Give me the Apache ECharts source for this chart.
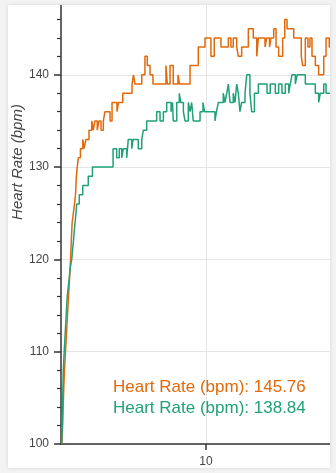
<!DOCTYPE html>
<html>
<head>
<meta charset="utf-8">
<script src="https://cdn.jsdelivr.net/npm/echarts@6/dist/echarts.min.js"></script>
<style>
  html, body { margin: 0; padding: 0; background: #f3f3f3; }
  #card {
    position: absolute; left: 8px; top: 5px; width: 322px; height: 463px;
    background: #fff; overflow: hidden;
    box-shadow: 0 0 4px rgba(0, 0, 0, 0.12);
  }
  #chart { position: absolute; left: -8px; top: -35px; width: 345px; height: 520px; }
</style>
</head>
<body>
<div id="card"><div id="chart"></div></div>
<script>
// elapsed time (minutes) where the reading changes, and the reading from there on
const timeA = [0.06, 0.11, 0.15, 0.19, 0.24, 0.31, 0.38, 0.45, 0.52, 0.59, 0.66, 0.71, 0.77, 0.85, 0.93,
  1.00, 1.06, 1.12, 1.19, 1.34, 1.50, 1.59, 1.72, 1.93, 2.12, 2.23, 2.34, 2.50, 2.62, 2.76, 2.92,
  3.03, 3.38, 3.52, 3.86, 3.97, 4.26, 4.90, 5.00, 5.10, 5.57, 5.79, 5.95, 6.14, 6.34, 7.24, 7.33,
  7.52, 7.74, 8.07, 8.17, 8.90, 9.47, 9.93, 10.34, 10.57, 11.03, 11.54, 11.72, 11.88, 12.12, 12.23,
  12.46, 12.92, 13.26, 13.50, 13.61, 14.07, 14.19, 14.38, 14.48, 14.67, 14.83, 15.01, 15.29, 15.43,
  15.59, 16.05, 16.57, 16.67, 16.85, 17.03, 17.17, 17.31, 17.54, 17.77, 18.12, 18.28, 18.50, 18.60];
const hrA = [100, 102, 104, 106, 108, 110, 112, 114, 116, 118, 120, 122, 124, 125, 126,
  127, 129, 130, 131, 132, 133, 132, 133, 134, 135, 134, 135, 134, 135, 134, 135,
  136, 135, 137, 136, 137, 138, 139, 140, 139, 140, 142, 141, 140, 139, 141, 139,
  141, 139, 140, 139, 141, 143, 144, 142, 144, 143, 144, 143, 144, 143, 142,
  143, 145, 144, 142, 144, 143, 144, 143, 144, 145, 143, 142, 144, 146,
  145, 144, 142, 141, 144, 143, 144, 142, 141, 140, 142, 144, 143, 143];

const timeB = [0.05, 0.09, 0.12, 0.16, 0.22, 0.29, 0.36, 0.43, 0.50, 0.57, 0.63, 0.74, 0.80, 0.86, 0.91,
  0.97, 1.03, 1.08, 1.26, 1.50, 1.88, 2.17, 3.59, 3.84, 4.02, 4.19, 4.30, 4.53, 4.64, 4.88, 4.97,
  5.33, 5.57, 5.68, 5.91, 6.60, 6.83, 7.06, 7.29, 7.59, 7.69, 7.74, 7.98, 8.16, 8.26, 8.44, 8.55,
  8.78, 8.90, 9.01, 9.12, 9.59, 9.79, 9.90, 10.62, 10.72, 10.85, 11.19, 11.31, 11.43, 11.54, 11.66,
  11.88, 12.00, 12.12, 12.23, 12.34, 12.46, 12.69, 12.81, 13.03, 13.15, 13.34, 13.61, 14.21, 14.43,
  14.78, 15.01, 15.24, 15.47, 15.70, 15.81, 15.93, 16.16, 16.28, 16.85, 17.54, 17.77, 17.88, 18.12,
  18.28, 18.60];
const hrB = [100, 102, 105, 108, 110, 112, 114, 116, 117, 118, 119, 120, 121, 122, 123,
  124, 125, 126, 127, 128, 129, 130, 132, 131, 132, 131, 132, 131, 133, 132, 133,
  132, 133, 134, 135, 136, 135, 136, 137, 136, 137, 135, 137, 138, 137, 136, 135,
  137, 136, 137, 135, 136, 137, 136, 135, 136, 137, 138, 137, 138, 139, 137,
  138, 137, 139, 138, 136, 137, 138, 140, 138, 136, 138, 139, 138, 139,
  138, 139, 138, 139, 138, 139, 140, 139, 140, 139, 138, 137, 138, 139,
  138, 138];

const legendLabels = ['Heart Rate (bpm): 145.76', 'Heart Rate (bpm): 138.84'];
const lineColors = ['#e2690b', '#21a07a'];
const xTickValues = [10];
const yAxisTitle = 'Heart Rate (bpm)';

const font = '"Liberation Sans", Arial, Helvetica, sans-serif';

function pairs(ts, vs) {
  return ts.map((t, i) => [t, vs[i]]);
}

const chart = echarts.init(document.getElementById('chart'), null, { renderer: 'canvas' });

chart.setOption({
  animation: false,
  grid: {
    left: 61,
    top: 12.5,
    width: 275.5,
    height: 461.5
  },
  graphic: {
    type: 'text',
    x: 18,
    y: 192,
    rotation: Math.PI / 2,
    style: {
      text: yAxisTitle,
      align: 'center',
      verticalAlign: 'middle',
      font: 'italic 15px ' + font,
      fill: '#444'
    }
  },
  legend: {
    orient: 'vertical',
    left: 108,
    top: 407.5,
    padding: 0,
    itemGap: 1,
    itemWidth: 0,
    icon: 'none',
    selectedMode: false,
    textStyle: { fontFamily: font, fontSize: 17, lineHeight: 20 },
    data: legendLabels.map((name, i) => ({ name, textStyle: { color: lineColors[i] } }))
  },
  xAxis: {
    type: 'value',
    min: 0,
    max: 19,
    interval: 10,
    axisLine: { lineStyle: { color: '#333', width: 1.5 } },
    axisTick: { customValues: xTickValues, length: 6, lineStyle: { color: '#333', width: 1.5 } },
    axisLabel: {
      customValues: xTickValues,
      margin: 12,
      color: '#444',
      fontFamily: font,
      fontSize: 12,
      showMinLabel: false,
      showMaxLabel: false
    },
    splitLine: { show: true, lineStyle: { color: '#e5e5e5', width: 1 } }
  },
  yAxis: {
    type: 'value',
    min: 100,
    max: 150,
    interval: 10,
    axisLine: { show: true, lineStyle: { color: '#333', width: 1.5 } },
    axisTick: { show: true, length: 7, lineStyle: { color: '#333', width: 1.5 } },
    minorTick: { show: true, splitNumber: 5, length: 4, lineStyle: { color: '#333', width: 1.2 } },
    axisLabel: {
      margin: 12,
      color: '#444',
      fontFamily: font,
      fontSize: 12,
      showMaxLabel: false
    },
    splitLine: { show: true, lineStyle: { color: '#e5e5e5', width: 1 } }
  },
  series: [
    {
      name: legendLabels[0],
      type: 'line',
      step: 'end',
      showSymbol: false,
      data: pairs(timeA, hrA),
      lineStyle: { color: lineColors[0], width: 1.5 },
      itemStyle: { color: lineColors[0] }
    },
    {
      name: legendLabels[1],
      type: 'line',
      step: 'end',
      showSymbol: false,
      data: pairs(timeB, hrB),
      lineStyle: { color: lineColors[1], width: 1.5 },
      itemStyle: { color: lineColors[1] }
    }
  ]
});
</script>
</body>
</html>
